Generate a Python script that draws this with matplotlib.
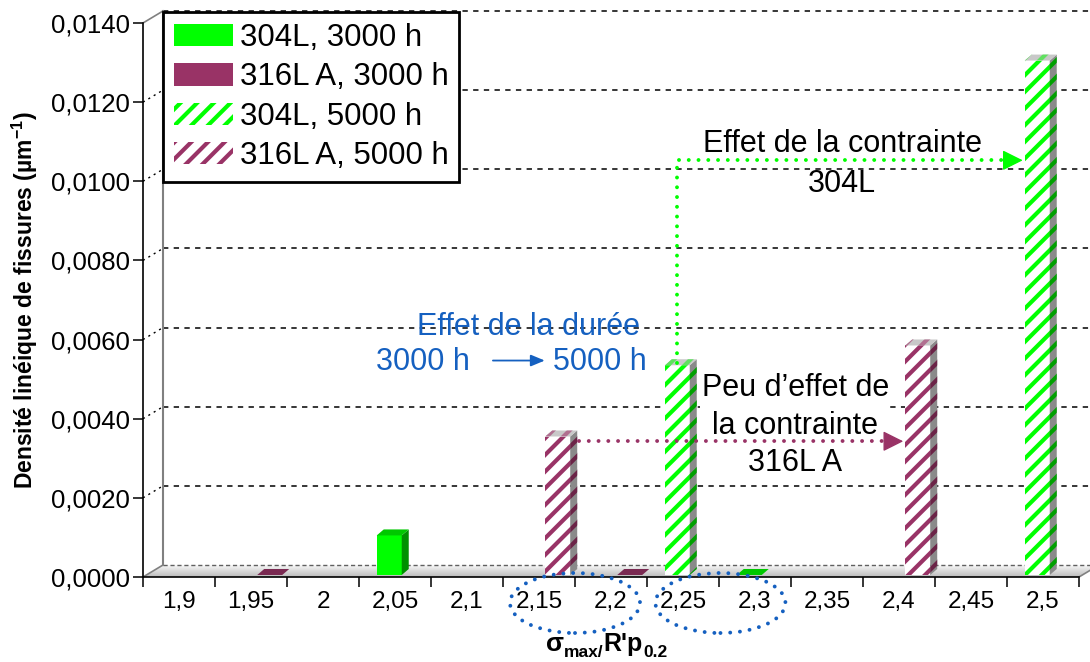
import matplotlib.pyplot as plt
import numpy as np
from matplotlib.patches import Polygon, Rectangle, Patch, Ellipse

plt.rcParams['font.family'] = ['Liberation Sans', 'DejaVu Sans']
plt.rcParams['hatch.linewidth'] = 3.0

# --- Data ---
categories = ['1,9', '1,95', '2', '2,05', '2,1', '2,15', '2,2',
              '2,25', '2,3', '2,35', '2,4', '2,45', '2,5']
nan = np.nan
d304_3000 = [nan, nan, nan, 0.0010, nan, nan, nan, nan, 0.0, nan, nan, nan, nan]
d316_3000 = [nan, 0.0, nan, nan, nan, nan, 0.0, nan, nan, nan, nan, nan, nan]
d304_5000 = [nan, nan, nan, nan, nan, nan, nan, 0.0053, nan, nan, nan, nan, 0.0130]
d316_5000 = [nan, nan, nan, nan, nan, 0.0035, nan, nan, nan, nan, 0.0058, nan, nan]
yticks = [0.0, 0.002, 0.004, 0.006, 0.008, 0.010, 0.012, 0.014]

GREEN = '#00ff00'
PURPLE = '#993366'
BLUE = '#1560c0'

# --- Figure / axes geometry (pixels) ---
W, H = 1090, 662
fig = plt.figure(figsize=(W / 100, H / 100), dpi=100)
ax = fig.add_axes([143 / W, 85 / H, 936 / W, 554 / H])
n = len(categories)
px = n / 936.0        # data x per pixel
py = 0.014 / 554.0    # data y per pixel
DX, DY = 20 * px, 12 * py   # depth of the floor / back wall
BX, BY = 7 * px, 6 * py     # depth of one bar
base = 2 * py
bar_w = 25 * px

# --- Walls, floor, gridlines ---
for k in range(12):
    t0, t1 = k / 12, (k + 1) / 12
    c = 0.72 + 0.24 * t1
    ax.add_patch(Polygon([(t0 * DX, t0 * DY), (n + t0 * DX, t0 * DY),
                          (n + t1 * DX, t1 * DY), (t1 * DX, t1 * DY)],
                         closed=True, facecolor=(c, c, c), lw=0,
                         clip_on=False, zorder=1))
ax.plot([DX, n + DX], [DY, DY], color='#606060', lw=1, ls=(0, (3, 2)),
        clip_on=False, zorder=2)
ax.plot([0, DX], [0, DY], color='#808080', lw=1.2, clip_on=False, zorder=2)
ax.plot([n, n + DX], [0, DY], color='#808080', lw=1.2, clip_on=False, zorder=2)
ax.plot([DX, DX], [DY, 0.014 + DY], color='#808080', lw=1.5, clip_on=False, zorder=2)
ax.plot([0, DX], [0.014, 0.014 + DY], color='#808080', lw=1.2, clip_on=False, zorder=2)
for v in yticks[1:]:
    ax.plot([DX, n + DX], [v + DY, v + DY], color='black', lw=1.1,
            ls=(0, (3.5, 3.5)), clip_on=False, zorder=1)
    if v < 0.014:
        ax.plot([0, DX], [v, v + DY], color='black', lw=1, ls=(0, (1.5, 3)),
                clip_on=False, zorder=1)


# --- Pseudo-3D bars ---
def draw_bar(x0, v, front, side, top, hatched, hcols):
    y1 = base + v
    if v > 0:
        if hatched:
            ax.add_patch(Rectangle((x0, base), bar_w, v, facecolor=front,
                                   edgecolor=hcols[0], hatch='//', lw=0, zorder=4))
        else:
            ax.add_patch(Rectangle((x0, base), bar_w, v, facecolor=front,
                                   lw=0, zorder=4))
        ax.add_patch(Polygon([(x0 + bar_w, base), (x0 + bar_w + BX, base + BY),
                              (x0 + bar_w + BX, y1 + BY), (x0 + bar_w, y1)],
                             facecolor=side, edgecolor=hcols[1],
                             hatch='//' if hatched else None, lw=0, zorder=4))
    ax.add_patch(Polygon([(x0, y1), (x0 + bar_w, y1), (x0 + bar_w + BX, y1 + BY),
                          (x0 + BX, y1 + BY)],
                         facecolor=top, edgecolor=hcols[2],
                         hatch='//' if hatched else None, lw=0, zorder=4))


series = [
    # values, slot center in category, front, side, top, hatched, hatch colours
    (d304_3000, 0.42, GREEN, '#009000', '#00c800', False, (GREEN, GREEN, GREEN)),
    (d316_3000, 0.76, PURPLE, '#5c1f3d', '#7a2a52', False, (PURPLE, PURPLE, PURPLE)),
    (d304_5000, 0.42, 'white', '#8a8a8a', '#c8c8c8', True, (GREEN, '#00a000', '#60e060')),
    (d316_5000, 0.76, 'white', '#8a8a8a', '#c8c8c8', True, (PURPLE, '#6b2447', '#b07090')),
]
for vals, slot, fc, sc, tc, hat, hc in series:
    for i, v in enumerate(vals):
        if np.isnan(v):
            continue
        draw_bar(i + slot - bar_w / 2, v, fc, sc, tc, hat, hc)

# --- Axes formatting ---
ax.set_xlim(0, n)
ax.set_ylim(0, 0.014)
for s in ['top', 'right']:
    ax.spines[s].set_visible(False)
for s in ['left', 'bottom']:
    ax.spines[s].set_linewidth(1.2)
    ax.spines[s].set_zorder(6)
ax.set_xticks(np.arange(n + 1))
ax.set_xticklabels([])
ax.set_xticks(np.arange(n) + 0.5, minor=True)
ax.set_xticklabels(categories, minor=True, fontsize=17.5)
ax.tick_params(axis='x', which='major', length=7.5, width=1.1, direction='out')
ax.tick_params(axis='x', which='minor', length=0, pad=10)
ax.set_yticks(yticks)
ax.set_yticklabels([f'{v:.4f}'.replace('.', ',') for v in yticks], fontsize=18.5)
ax.tick_params(axis='y', length=7.5, width=1.1, pad=2)
ax.set_ylabel('Densité linéique de fissures (µm$^{\\mathregular{-1}}$)', fontsize=16.5,
              fontweight='bold', labelpad=8)
ax.patch.set_visible(False)

# x label: sigma_max / R'p_0.2 built from pieces
x_start, y_base = 546 / W, 1 - 651 / H
t1 = fig.text(x_start, y_base, 'σ', fontsize=19, fontweight='bold', va='baseline')
t2 = ax.annotate('max/', xy=(1, y_base), xycoords=(t1, 'figure fraction'),
                 xytext=(0, -4), textcoords='offset points', fontsize=12.5,
                 fontweight='bold', va='baseline', annotation_clip=False)
t3 = ax.annotate("R'p", xy=(1, y_base), xycoords=(t2, 'figure fraction'),
                 fontsize=18, fontweight='bold', va='baseline', annotation_clip=False)
ax.annotate('0.2', xy=(1, y_base), xycoords=(t3, 'figure fraction'),
            xytext=(0, -4), textcoords='offset points', fontsize=12.5,
            fontweight='bold', va='baseline', annotation_clip=False)

# --- Legend ---
handles = [
    Patch(facecolor=GREEN, lw=0, label='304L, 3000 h'),
    Patch(facecolor=PURPLE, lw=0, label='316L A, 3000 h'),
    Patch(facecolor='white', edgecolor=GREEN, hatch='//', lw=0, label='304L, 5000 h'),
    Patch(facecolor='white', edgecolor=PURPLE, hatch='//', lw=0, label='316L A, 5000 h'),
]
leg = fig.legend(handles=handles, loc='upper left', bbox_to_anchor=(163 / W, 1 - 12 / H),
                 borderaxespad=0, fontsize=22.5, fancybox=False, framealpha=1,
                 handlelength=1.9, handleheight=0.72, handletextpad=0.2,
                 labelspacing=0.3, borderpad=0.35)
leg.get_frame().set_edgecolor('black')
leg.get_frame().set_linewidth(2)
leg.set_zorder(10)


# --- Annotations ---
def dotted(xs, ys, color, lw=2.8):
    ax.plot(xs, ys, color=color, lw=lw, ls=(0, (0.01, 2.5)),
            dash_capstyle='round', clip_on=False, zorder=7)


def head(x_tip, y_tip, color, dx_pt=-14, dy_pt=0):
    ax.annotate('', xy=(x_tip, y_tip), xytext=(dx_pt, dy_pt), textcoords='offset points',
                arrowprops=dict(arrowstyle='-|>,head_length=0.9,head_width=0.45',
                                color=color, lw=1, shrinkA=0, shrinkB=0,
                                mutation_scale=14), annotation_clip=False, zorder=7)


# Effect of stress, 304L
gx0 = 7 + 0.42
gy0 = d304_5000[7] + base + 2 * py
gy1 = 0.01053
gx1 = 12 + 0.42 - bar_w / 2 - 2 * px
dotted([gx0, gx0, gx1 - 12 * px], [gy0, gy1, gy1], GREEN)
head(gx1, gy1, GREEN, dx_pt=-12)
ax.text(9.71, 0.01095, 'Effet de la contrainte', fontsize=22, ha='center', va='center', zorder=8)
ax.text(9.71, 0.00993, '304L', fontsize=22, ha='center', va='center', zorder=8)

# Small effect of stress, 316L A
ax.text(9.06, 0.00382, 'Peu d’effet de\nla contrainte\n316L A', fontsize=22,
        ha='center', va='center', linespacing=1.32, zorder=5,
        bbox=dict(facecolor='white', edgecolor='none', pad=1))
px0 = 5 + 0.76 + bar_w / 2 + BX + 2 * px
pyv = 0.00343
px1 = 10 + 0.76 - bar_w / 2 - 2 * px
dotted([px0, px1 - 12 * px], [pyv, pyv], PURPLE)
head(px1, pyv, PURPLE, dx_pt=-12)

# Effect of duration
ax.text(5.35, 0.00631, 'Effet de la durée', fontsize=22, color=BLUE,
        ha='center', va='center', zorder=8)
ax.text(4.54, 0.00543, '3000 h', fontsize=22, color=BLUE, ha='right', va='center', zorder=8)
ax.text(5.69, 0.00543, '5000 h', fontsize=22, color=BLUE, ha='left', va='center', zorder=8)
ax.annotate('', xy=(5.58, 0.00547), xytext=(4.86, 0.00547),
            arrowprops=dict(arrowstyle='-|>,head_length=0.6,head_width=0.25',
                            color=BLUE, lw=1.3, shrinkA=0, shrinkB=0, mutation_scale=14),
            zorder=8)

# Dotted ellipses around the tick labels
for cx in [6.0, 8.02]:
    e = Ellipse((cx, -26 * py), 130 * px, 60 * py, fill=False, edgecolor=BLUE,
                lw=2.8, ls=(0, (0.01, 2.5)), clip_on=False, zorder=8)
    e.set_capstyle('round')
    ax.add_patch(e)

fig.savefig('out.png', dpi=100)
